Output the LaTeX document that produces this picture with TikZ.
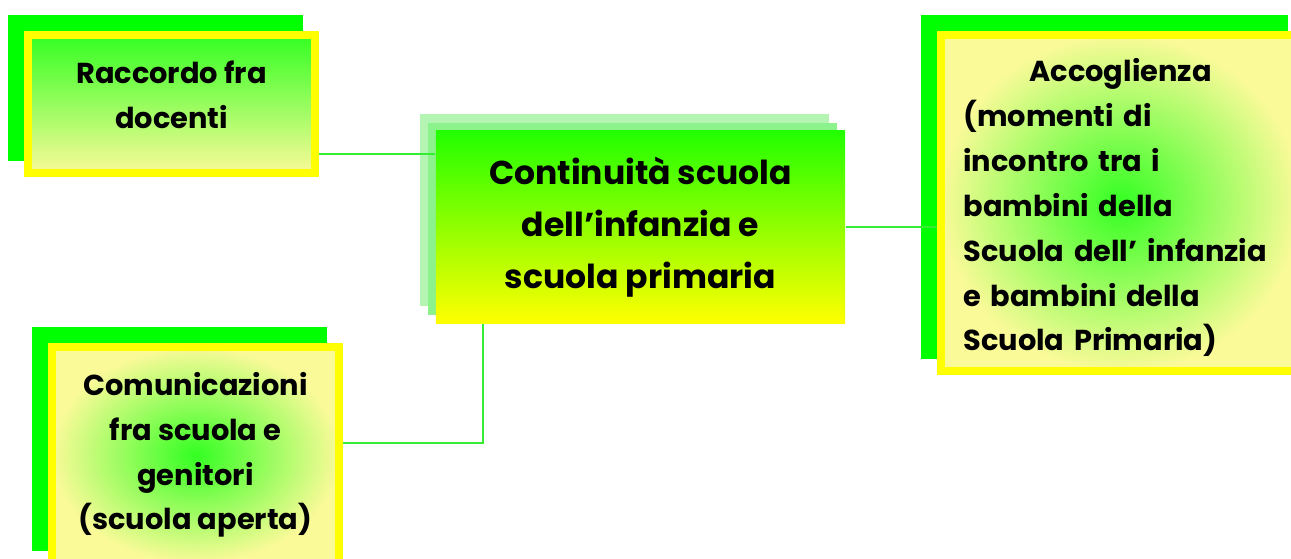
\documentclass[tikz,border=0pt]{standalone}
\usepackage{fontspec}
\setmainfont{Poppins}
\usetikzlibrary{shadows}
\definecolor{boxgreen}{HTML}{00FF00}
\definecolor{boxyellow}{HTML}{FFFF00}
\definecolor{paleyellow}{HTML}{FAFA99}
\definecolor{midgreen}{HTML}{33FF22}
\definecolor{topgreen}{HTML}{22FF00}
\definecolor{ghostA}{HTML}{B4F5B4}
\definecolor{ghostB}{HTML}{8CF28C}
\definecolor{linkgreen}{HTML}{33EE33}

\begin{document}
\begin{tikzpicture}[x = .01cm, y = -.01cm,
    sidebox/.style = {draw = boxyellow, line width = .08cm, inner sep = 0pt,
        font = \bfseries\fontsize{8.2pt}{12.75pt}\selectfont,
        general shadow = {draw = boxgreen, fill = boxgreen, line width = .08cm,
            shadow xshift = -.16cm, shadow yshift = .16cm}},
    glowbox/.style = {sidebox, inner color = midgreen, outer color = paleyellow},
    mainbox/.style = {inner sep = 0pt, top color = topgreen, bottom color = boxyellow,
        font = \bfseries\fontsize{9.4pt}{14.8pt}\selectfont, align = center,
        minimum width = 4.09cm, minimum height = 1.92cm,
        general shadow = {fill = ghostA, shadow xshift = -.16cm, shadow yshift = .17cm},
        general shadow = {fill = ghostB, shadow xshift = -.08cm, shadow yshift = .08cm}},
    link/.style = {draw = linkgreen, line width = .02cm}]
    \useasboundingbox (0,0) rectangle (1291,559);
    \clip (0,0) rectangle (1291,559);

    \node[sidebox, top color = midgreen, middle color = green!45!paleyellow, bottom color = paleyellow,
        align = center, text depth = .18cm, minimum width = 2.87cm, minimum height = 1.38cm]
        (rac) at (171.5,104) {Raccordo fra\\docenti};
    \node[mainbox] (cen) at (640.5,227) {Continuità scuola\\dell’infanzia e\\scuola primaria};
    \node[glowbox, align = left, text width = 3.14cm, text height = .33cm,
        minimum width = 3.59cm, minimum height = 3.36cm]
        (acc) at (1120.5,203) {\makebox[\linewidth][c]{Accoglienza}\\(momenti di\\incontro tra i\\bambini della\\Scuola dell’ infanzia\\e bambini della\\Scuola Primaria)};
    \node[glowbox, align = center, minimum width = 2.87cm, minimum height = 2.16cm]
        (com) at (195.5,455) {Comunicazioni\\fra scuola e\\genitori\\(scuola aperta)};

    %\draw[link] (rac.east) -- (cen.west);
    \draw[link] (rac.east) ++(0,50) coordinate (racout) -- (racout -| cen.west);
    \draw[link] (cen.east) -- (cen.east -| acc.west);
    \coordinate (cenout) at ([xshift = .48cm]cen.south west);
    \coordinate (comin) at ([yshift = .12cm]com.east);
    \draw[link] (cenout) |- (comin);
\end{tikzpicture}
\end{document}
